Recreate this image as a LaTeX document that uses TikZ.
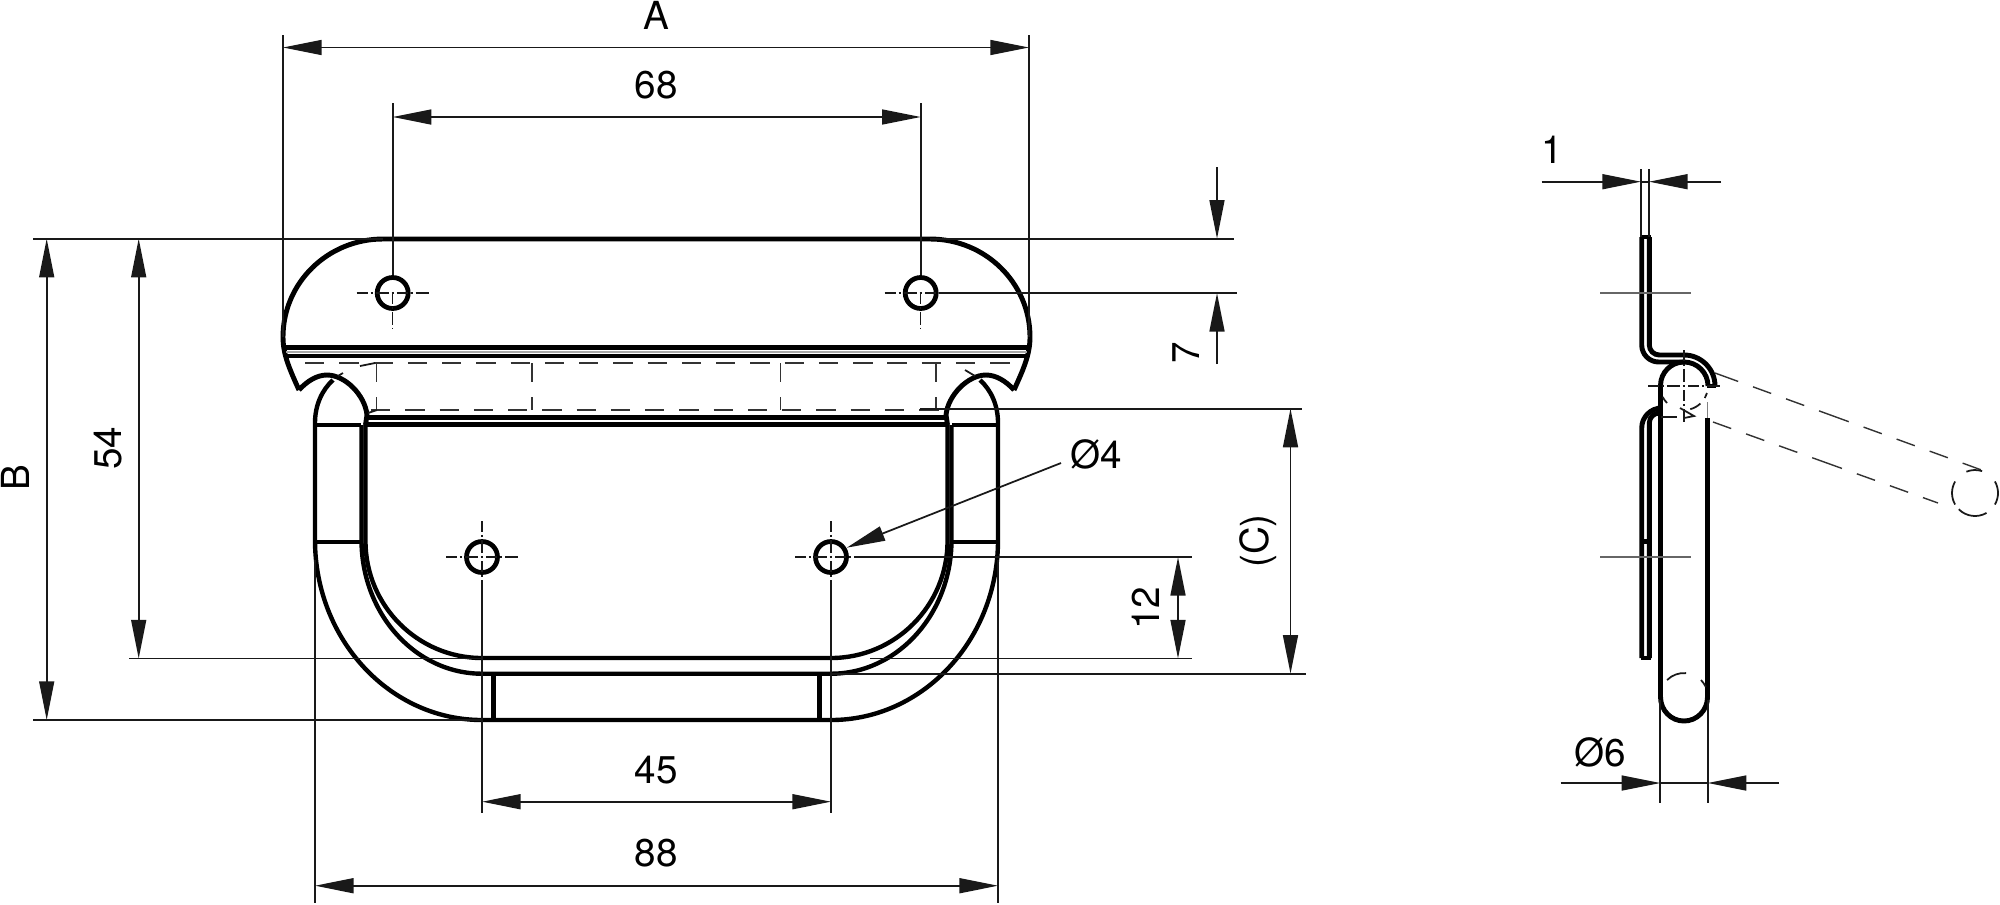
\documentclass[tikz,border=0pt]{standalone}
\usepackage{fontspec}
\setmainfont{TeX Gyre Heros}
\usetikzlibrary{arrows.meta}

\begin{document}
\begin{tikzpicture}[
	x=0.02cm, y=0.02cm,
	>={Triangle[length=22pt,width=8.5pt]},
	partline/.style={line width=2.8pt, black},
	midline/.style={line width=2.5pt, black},
	thinline/.style={line width=1pt, black!90},
	dimline/.style={line width=1pt, black!90},
	hiddenline/.style={line width=0.8pt, black!80, dash pattern=on 11pt off 8.5pt},
	axisline/.style={line width=0.8pt, black!90, dash pattern=on 6.2pt off 1.7pt on 1.2pt off 1.7pt on 7.4pt off 1.7pt on 1.2pt off 1.7pt},
	holenode/.style={circle, draw=black, line width=2.7pt, fill=white, inner sep=0pt, minimum size=31*0.02cm},
	dimlabel/.style={inner sep=0pt, font=\fontsize{22}{24}\selectfont},
	]
	\useasboundingbox (0,0) rectangle (2000,-904);

	%Extension line ends
	\coordinate (extAl)  at (283,-35);
	\coordinate (extAr)  at (1029,-35);
	\coordinate (dimAl)  at (283,-47.5);
	\coordinate (dimAr)  at (1029,-47.5);
	\coordinate (extGl)  at (392.7,-103);
	\coordinate (extGr)  at (920.7,-103);
	\coordinate (dimGl)  at (392.7,-117);
	\coordinate (dimGr)  at (920.7,-117);
	\coordinate (topL)   at (33,-238.7);
	\coordinate (topE)   at (383,-238.7);
	\coordinate (topS)   at (930,-238.7);
	\coordinate (topR)   at (1234,-238.7);
	\coordinate (slotL)  at (129,-658.5);
	\coordinate (slotE)  at (482,-658.5);
	\coordinate (slotS)  at (870,-658.5);
	\coordinate (slotR)  at (1192,-658.5);
	\coordinate (botL)   at (33,-720);
	\coordinate (botE)   at (482,-720);
	\coordinate (dimBt)  at (46.7,-238.7);
	\coordinate (dimBb)  at (46.7,-720);
	\coordinate (dimDt)  at (138.7,-238.7);
	\coordinate (dimDb)  at (138.7,-658.5);
	\coordinate (sevT)   at (1217,-167);
	\coordinate (sevM)   at (1217,-238.7);
	\coordinate (sevH)   at (1217,-293);
	\coordinate (sevB)   at (1217,-364);
	\coordinate (sevE)   at (1237,-293);
	\coordinate (cTopS)  at (920,-408.7);
	\coordinate (cTopE)  at (1302,-408.7);
	\coordinate (cBotS)  at (831,-673.7);
	\coordinate (cBotE)  at (1306,-673.7);
	\coordinate (dimCt)  at (1290.5,-408.7);
	\coordinate (dimCb)  at (1290.5,-673.7);
	\coordinate (twlE)   at (1192,-557);
	\coordinate (twlT)   at (1178,-557);
	\coordinate (twlB)   at (1178,-658.5);
	\coordinate (leadE)  at (1061,-463);
	\coordinate (extHl)  at (482,-813);
	\coordinate (extHr)  at (831,-813);
	\coordinate (dimHl)  at (482,-801.7);
	\coordinate (dimHr)  at (831,-801.7);
	\coordinate (extWl)  at (315,-903);
	\coordinate (extWr)  at (998,-903);
	\coordinate (extWls) at (315,-560);
	\coordinate (extWrs) at (998,-560);
	\coordinate (dimWl)  at (315,-885.7);
	\coordinate (dimWr)  at (998,-885.7);

	%Holes
	\node[holenode] (hole1) at (392.7,-293) {};
	\node[holenode] (hole2) at (920.7,-293) {};
	\node[holenode] (hole3) at (482,-557) {};
	\node[holenode] (hole4) at (831,-557) {};

	%Front view, plate
	\draw[partline] (299,-390) .. controls (290,-370) and (283,-355) .. (283,-337)
		arc[start angle=180,end angle=90,x radius=100,y radius=98] -- (930,-239)
		arc[start angle=90,end angle=0,x radius=100,y radius=98]
		.. controls (1030,-355) and (1023,-370) .. (1014,-390);
	\draw[partline] (285,-347.5) -- (1028,-347.5);
	\draw[midline] (287,-356) -- (1026,-356);
	\draw[line width=1.3pt, black!35] (286,-352) -- (1027,-352);

	%Notches
	\draw[partline] (299,-390) .. controls (308,-380) and (318,-375) .. (327,-375)
		.. controls (345,-375) and (365,-395) .. (367,-415) -- (365.5,-425);
	\draw[partline] (1014,-390) .. controls (1005,-380) and (995,-375) .. (986,-375)
		.. controls (968,-375) and (948,-395) .. (946,-415) -- (947.5,-425);
	\draw[midline] (315,-423) .. controls (315,-405) and (322,-390) .. (333,-380);
	\draw[midline] (998,-423) .. controls (998,-405) and (991,-390) .. (980,-380);
	\draw[partline] (367,-417.5) -- (946,-417.5);
	\draw[partline] (367,-424.5) -- (946,-424.5);

	%Front view, handle
	\draw[midline] (315,-423) -- (315,-540)
		arc[start angle=180,end angle=270,x radius=167,y radius=180] -- (831,-720)
		arc[start angle=270,end angle=360,x radius=167,y radius=180] -- (998,-423);
	\draw[midline] (361.5,-425) -- (361.5,-540)
		arc[start angle=180,end angle=270,x radius=120.5,y radius=133.7] -- (831,-673.7)
		arc[start angle=270,end angle=360,x radius=120.5,y radius=133.7] -- (951.5,-425);
	\draw[midline] (365.5,-425) -- (365.5,-541)
		arc[start angle=180,end angle=270,x radius=116.5,y radius=117] -- (831,-658)
		arc[start angle=270,end angle=360,x radius=116.5,y radius=117] -- (947.5,-425);
	\draw[midline] (315,-425) -- (361,-425);
	\draw[midline] (952,-425) -- (998,-425);
	\draw[midline] (315,-541.7) -- (361,-541.7);
	\draw[midline] (952,-541.7) -- (998,-541.7);
	\draw[partline] (493.3,-674) -- (493.3,-720);
	\draw[partline] (819.7,-674) -- (819.7,-720);

	%Front view, hidden edges
	\draw[hiddenline] (305,-363) -- (1021,-363);
	\draw[hiddenline] (371,-410) -- (945,-410);
	\draw[hiddenline] (376.7,-363) -- (376.7,-410);
	\draw[hiddenline] (532,-363) -- (532,-410);
	\draw[hiddenline] (780.7,-363) -- (780.7,-410);
	\draw[hiddenline] (936,-363) -- (936,-410);
	\draw[thinline] (360,-366) -- (375,-363);
	\draw[thinline] (338,-376) -- (343,-373);
	\draw[thinline] (368,-413) -- (377,-410);
	\draw[thinline] (965,-370) -- (975,-376);

	%Center marks
	\draw[axisline] (356.7,-293) -- (428.7,-293);
	\draw[axisline] (884.7,-293) -- (940,-293);
	\draw[axisline] (392.7,-293) -- (392.7,-328);
	\draw[axisline] (920.7,-293) -- (920.7,-328);
	\draw[axisline] (446,-557) -- (518,-557);
	\draw[axisline] (795,-557) -- (866,-557);
	\draw[axisline] (482,-521) -- (482,-593);
	\draw[axisline] (831,-521) -- (831,-593);

	%Dimension lines
	\draw[thinline] (extAl) -- (283,-337);
	\draw[thinline] (extAr) -- (1029,-337);
	\draw[thinline] (extGl) -- (hole1.north);
	\draw[thinline] (extGr) -- (hole2.north);
	\draw[thinline] (topL) -- (topE);
	\draw[thinline] (topS) -- (topR);
	\draw[thinline] (slotL) -- (slotE);
	\draw[thinline] (slotS) -- (slotR);
	\draw[thinline] (botL) -- (botE);
	\draw[thinline] (cTopS) -- (cTopE);
	\draw[thinline] (cBotS) -- (cBotE);
	\draw[thinline] (hole2.east) -- (sevE);
	\draw[thinline] (866,-557) -- (twlE);
	\draw[thinline] (482,-593) -- (extHl);
	\draw[thinline] (831,-593) -- (extHr);
	\draw[thinline] (extWls) -- (extWl);
	\draw[thinline] (extWrs) -- (extWr);
	\draw[dimline,<->] (dimAl) -- (dimAr);
	\draw[dimline,<->] (dimGl) -- (dimGr);
	\draw[dimline,<->] (dimBt) -- (dimBb);
	\draw[dimline,<->] (dimDt) -- (dimDb);
	\draw[dimline,<->] (dimCt) -- (dimCb);
	\draw[dimline,<->] (twlT) -- (twlB);
	\draw[dimline,<->] (dimHl) -- (dimHr);
	\draw[dimline,<->] (dimWl) -- (dimWr);
	\draw[dimline,->] (sevT) -- (sevM);
	\draw[dimline,->] (sevB) -- (sevH);
	\draw[dimline,->] (leadE) -- (846.7,-547.7);

	%Front view labels
	\node[dimlabel] (labelA) at (656,-15) {A};
	\node[dimlabel] (label68) at (656,-85) {68};
	\node[dimlabel,rotate=90] (labelB) at (15,-478) {B};
	\node[dimlabel,rotate=90] (label54) at (108,-448) {54};
	\node[dimlabel,rotate=90] (label7) at (1186,-353) {7};
	\node[dimlabel,rotate=90] (labelC) at (1258,-541) {(C)};
	\node[dimlabel,rotate=90] (label12) at (1146,-608) {12};
	\node[dimlabel] (labelH) at (1096,-454) {Ø4};
	\node[dimlabel] (label45) at (656,-770) {45};
	\node[dimlabel] (label88) at (656,-853) {88};

	%Side view, sheet
	\draw[partline] (1649.3,-237) -- (1649.3,-345) arc[start angle=180,end angle=270,radius=10]
		-- (1684,-355) arc[start angle=90,end angle=0,radius=31];
	\draw[partline] (1641.7,-237) -- (1641.7,-345) arc[start angle=180,end angle=270,radius=17]
		-- (1684,-362) arc[start angle=90,end angle=0,radius=24];
	\draw[partline] (1640.5,-237) -- (1650.5,-237);
	\draw[partline] (1707,-386) -- (1716,-386);
	\draw[partline] (1649.3,-658) -- (1649.3,-423) arc[start angle=180,end angle=90,radius=10];
	\draw[partline] (1641.7,-658) -- (1641.7,-428) arc[start angle=180,end angle=90,radius=20];
	\draw[partline] (1640.5,-658) -- (1650.5,-658);
	\draw[partline] (1641,-541.7) -- (1650,-541.7);

	%Side view, rod
	\draw[partline] (1684,-362) arc[start angle=90,end angle=180,radius=23.5] -- (1660.5,-697)
		arc[start angle=180,end angle=360,x radius=23.5,y radius=24] -- (1707.5,-418);

	%Side view, thin lines
	\draw[thinline,black!60] (1600,-293) -- (1691,-293);
	\draw[thinline,black!60] (1600,-557.3) -- (1691,-557.3);
	\draw[thinline,black!50] (1707.5,-402) -- (1707.5,-418);
	\draw[axisline] (1648,-386) -- (1720,-386);
	\draw[axisline] (1684,-350) -- (1684,-423);
	\draw[thinline] (1661,-417) -- (1677,-417);
	\draw[thinline] (1680,-408) -- (1694,-416) -- (1684,-418);
	\draw[thinline] (1684,-386) ++(207:24) arc[start angle=207,end angle=225,radius=24];
	\draw[thinline] (1684,-386) ++(285:24) arc[start angle=285,end angle=313,radius=24];
	\draw[thinline] (1684,-386) ++(330:24) arc[start angle=330,end angle=343,radius=24];
	\draw[thinline] (1684,-697) ++(85:24) arc[start angle=85,end angle=135,radius=24];
	\draw[thinline] (1684,-697) ++(25:24) arc[start angle=25,end angle=45,radius=24];

	%Swung out position
	\draw[line width=0.8pt, black!80, dash pattern=on 14pt off 9pt on 11pt off 9pt on 11pt off 9pt on 18pt off 9pt on 11pt off 9pt on 11pt off 9pt on 11pt off 9pt on 11pt] (1715,-373) -- (1987,-472);
	\draw[line width=0.8pt, black!80, dash pattern=on 11pt off 9pt on 11pt off 9pt on 11pt off 9pt on 18pt off 9pt on 11pt off 9pt on 11pt off 9pt on 11pt] (1713,-422) -- (1938,-503);
	\draw[thinline] (1975,-493) ++(72:23) arc[start angle=72,end angle=112,radius=23];
	\draw[thinline] (1975,-493) ++(150:23) arc[start angle=150,end angle=210,radius=23];
	\draw[thinline] (1975,-493) ++(-30:23) arc[start angle=-30,end angle=30,radius=23];
	\draw[thinline] (1975,-493) ++(225:23) arc[start angle=225,end angle=300,radius=23];

	%Side view dimensions
	\coordinate (oneLt) at (1641,-169);
	\coordinate (oneLb) at (1641,-237);
	\coordinate (oneRt) at (1649,-169);
	\coordinate (oneRb) at (1649,-237);
	\coordinate (oneA)  at (1541.7,-181.7);
	\coordinate (oneB)  at (1641,-181.7);
	\coordinate (oneC)  at (1721,-181.7);
	\coordinate (oneD)  at (1649,-181.7);
	\coordinate (rodLt) at (1660.3,-700);
	\coordinate (rodLb) at (1660.3,-802.7);
	\coordinate (rodRt) at (1707.7,-700);
	\coordinate (rodRb) at (1707.7,-802.7);
	\coordinate (rodA)  at (1560.7,-783);
	\coordinate (rodB)  at (1660.3,-783);
	\coordinate (rodC)  at (1779,-783);
	\coordinate (rodD)  at (1707.7,-783);
	\draw[thinline] (oneLt) -- (oneLb);
	\draw[thinline] (oneRt) -- (oneRb);
	\draw[thinline] (rodLt) -- (rodLb);
	\draw[thinline] (rodRt) -- (rodRb);
	\draw[dimline,->] (oneA) -- (oneB);
	\draw[dimline,->] (oneC) -- (oneD);
	\draw[dimline] (oneB) -- (oneD);
	\draw[dimline,->] (rodA) -- (rodB);
	\draw[dimline,->] (rodC) -- (rodD);
	\draw[dimline] (rodB) -- (rodD);
	\node[dimlabel] (label1) at (1552,-150) {1};
	\node[dimlabel] (labelR) at (1600,-752) {Ø6};
\end{tikzpicture}
\end{document}
